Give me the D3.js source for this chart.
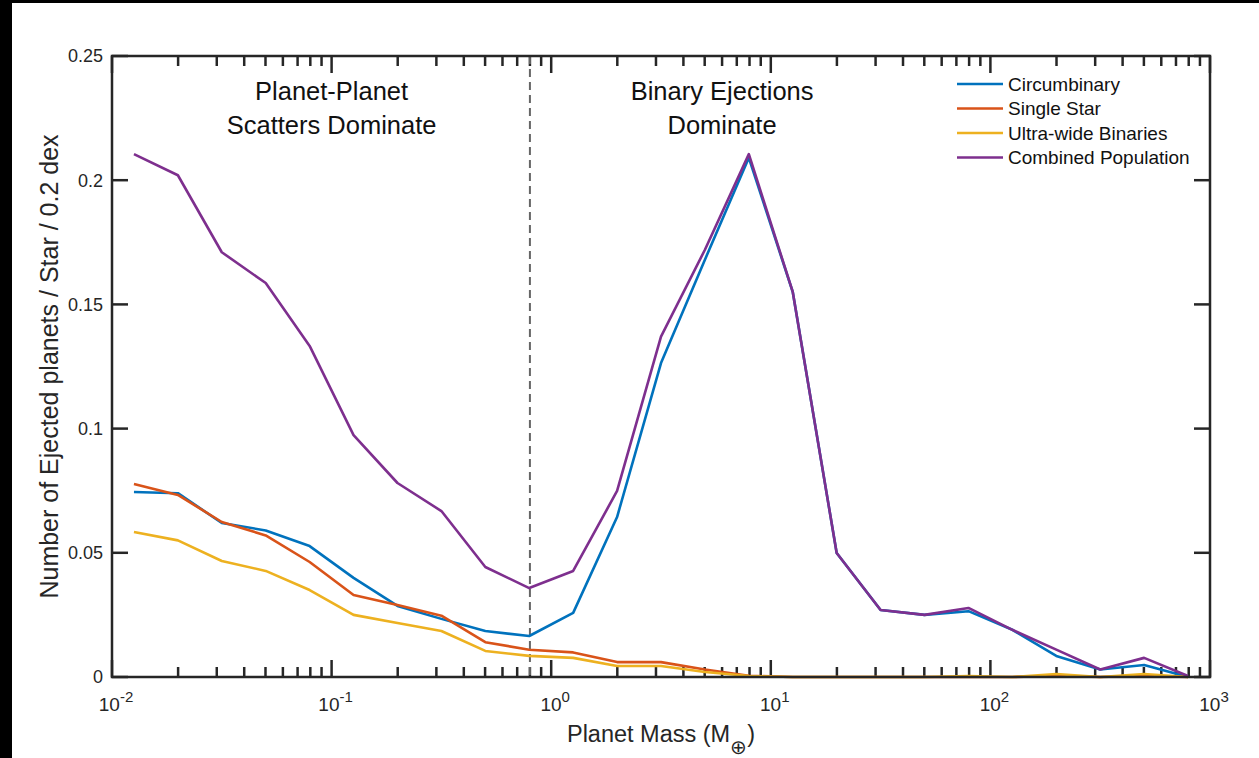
<!DOCTYPE html>
<html>
<head>
<meta charset="utf-8">
<script src="https://cdn.jsdelivr.net/npm/d3@7"></script>
<style>
  body { margin: 0; background: #000; }
  #chart { position: absolute; left: 12px; top: 3px; }
  text { font-family: "Liberation Sans", Arial, sans-serif; fill: #262626; }
</style>
</head>
<body>
<div id="chart"></div>
<script>
const width = 1259
const height = 758
const margins = { top: 56, bottom: 81, left: 112, right: 49 }

// log10 of bin centres: -1.9, -1.7, ... 2.9
const logMass = [-1.9, -1.7, -1.5, -1.3, -1.1, -0.9, -0.7, -0.5, -0.3, -0.1,
                 0.1, 0.3, 0.5, 0.7, 0.9, 1.1, 1.3, 1.5, 1.7, 1.9,
                 2.1, 2.3, 2.5, 2.7, 2.9]
const circumbinary = [0.0745, 0.074, 0.062, 0.059, 0.0527, 0.0399, 0.0286, 0.0234, 0.0185, 0.0165,
                      0.0258, 0.0644, 0.1264, 0.168, 0.209, 0.155, 0.0499, 0.027, 0.025, 0.0265,
                      0.019, 0.0085, 0.003, 0.0048, 0.0]
const singleStar = [0.0777, 0.0733, 0.0624, 0.057, 0.0463, 0.033, 0.029, 0.0247, 0.014, 0.011,
                    0.0099, 0.006, 0.006, 0.003, 0.0005, 0, 0, 0, 0, 0,
                    0, 0.0005, 0, 0.0005, 0]
const ultraWide = [0.0584, 0.055, 0.0467, 0.0427, 0.035, 0.025, 0.0217, 0.0185, 0.0105, 0.0085,
                   0.0077, 0.0044, 0.0044, 0.002, 0.0004, 0, 0, 0, 0, 0.0004,
                   0, 0.0012, 0, 0.0012, 0]
const combined = [0.2105, 0.202, 0.171, 0.1586, 0.1333, 0.0974, 0.0781, 0.0668, 0.0443, 0.0358,
                  0.0427, 0.0749, 0.137, 0.172, 0.2105, 0.155, 0.0499, 0.027, 0.025, 0.0278,
                  0.019, 0.011, 0.003, 0.0077, 0.0004]

const seriesNames = ['Circumbinary', 'Single Star', 'Ultra-wide Binaries', 'Combined Population']
const seriesColors = ['#0072BD', '#D95319', '#EDB120', '#7E2F8E']
const seriesValues = [circumbinary, singleStar, ultraWide, combined]
const yTicks = [0, 0.05, 0.1, 0.15, 0.2, 0.25]
const xDecades = [-2, -1, 0, 1, 2, 3]
const divider = 0.8

const svg = d3.select('#chart').append('svg')
    .attr('width', width - 12).attr('height', height - 3)
    .style('background', '#fff')

// the svg is shifted by 12,3 so offset everything back
const root = svg.append('g').attr('transform', 'translate(-12,-3)')

const w = width - margins.left - margins.right
const h = height - margins.top - margins.bottom

const x = d3.scaleLog().domain([1e-2, 1e3]).range([0, w])
const y = d3.scaleLinear().domain([0, 0.25]).range([h, 0])

const plot = root.append('g').attr('transform', `translate(${margins.left}, ${margins.top})`)

// minor + major x ticks
const minor = []
xDecades.slice(0, -1).forEach(d => { for (let k = 2; k <= 9; k++) minor.push(k * Math.pow(10, d)) })
const major = xDecades.map(d => Math.pow(10, d))

const tickGroup = plot.append('g').attr('stroke', '#262626').attr('stroke-width', 2.5)
minor.forEach(v => {
    tickGroup.append('line').attr('x1', x(v)).attr('x2', x(v)).attr('y1', h).attr('y2', h - 10)
    tickGroup.append('line').attr('x1', x(v)).attr('x2', x(v)).attr('y1', 0).attr('y2', 10)
})
major.forEach(v => {
    tickGroup.append('line').attr('x1', x(v)).attr('x2', x(v)).attr('y1', h).attr('y2', h - 17)
    tickGroup.append('line').attr('x1', x(v)).attr('x2', x(v)).attr('y1', 0).attr('y2', 17)
})
yTicks.forEach(v => {
    tickGroup.append('line').attr('x1', 0).attr('x2', 16).attr('y1', y(v)).attr('y2', y(v))
    tickGroup.append('line').attr('x1', w).attr('x2', w - 16).attr('y1', y(v)).attr('y2', y(v))
})

// dashed divider
plot.append('line')
    .attr('x1', x(divider)).attr('x2', x(divider))
    .attr('y1', 0).attr('y2', h)
    .attr('stroke', '#666').attr('stroke-width', 2)
    .attr('stroke-dasharray', '8,5')

// lines
const line = d3.line()
    .x((d, i) => x(Math.pow(10, logMass[i])))
    .y(d => y(d))

seriesValues.forEach((vals, i) => {
    plot.append('path')
        .datum(vals)
        .attr('d', line)
        .attr('fill', 'none')
        .attr('stroke', seriesColors[i])
        .attr('stroke-width', 2.6)
        .attr('stroke-linejoin', 'round')
})

// axes box
plot.append('rect')
    .attr('width', w).attr('height', h)
    .attr('fill', 'none').attr('stroke', '#262626').attr('stroke-width', 2.5)

// y tick labels
plot.selectAll('text.ytick').data(yTicks).enter().append('text')
    .attr('class', 'ytick')
    .attr('x', -9).attr('y', d => y(d)).attr('dy', '0.35em')
    .attr('text-anchor', 'end')
    .style('font-size', '18px')
    .text(d => d === 0 ? '0' : d3.format('.2~f')(d))

// x tick labels 10^n
const xl = plot.selectAll('text.xtick').data(xDecades).enter().append('text')
    .attr('class', 'xtick')
    .attr('x', d => x(Math.pow(10, d)) + 4)
    .attr('y', h + 34)
    .attr('text-anchor', 'middle')
    .style('font-size', '19px')
xl.append('tspan').text('10')
xl.append('tspan').attr('dy', -9).style('font-size', '15px').text(d => d)

// axis titles
const xt = root.append('text')
    .attr('x', margins.left + w / 2).attr('y', 742)
    .attr('text-anchor', 'middle')
    .style('font-size', '23.5px')
xt.append('tspan').text('Planet Mass (M')
xt.append('tspan').attr('dy', 12).style('font-size', '20px').text('\u2295')
xt.append('tspan').attr('dy', -12).text(')')

root.append('text')
    .attr('transform', `translate(58, ${margins.top + h / 2}) rotate(-90)`)
    .attr('text-anchor', 'middle')
    .style('font-size', '25px')
    .text('Number of Ejected planets / Star / 0.2 dex')

// annotations
const notes = [
    { lines: ['Planet-Planet', 'Scatters Dominate'], at: 0.1 },
    { lines: ['Binary Ejections', 'Dominate'], at: 6.0 }
]
notes.forEach(n => {
    const t = plot.append('text')
        .attr('text-anchor', 'middle')
        .style('font-size', '25.5px')
        .style('fill', '#111')
    n.lines.forEach((s, i) => {
        t.append('tspan').attr('x', x(n.at)).attr('y', 44 + i * 34).text(s)
    })
})

// legend
const legend = plot.append('g').attr('transform', `translate(${957 - margins.left}, ${84 - margins.top})`)
seriesNames.forEach((name, i) => {
    const g = legend.append('g').attr('transform', `translate(0, ${i * 24.5})`)
    g.append('line').attr('x1', 0).attr('x2', 46).attr('y1', 0).attr('y2', 0)
        .attr('stroke', seriesColors[i]).attr('stroke-width', 2.6)
    g.append('text').attr('x', 51).attr('y', 0).attr('dy', '0.35em')
        .style('font-size', '19px').style('fill', '#111').text(name)
})
</script>
</body>
</html>
